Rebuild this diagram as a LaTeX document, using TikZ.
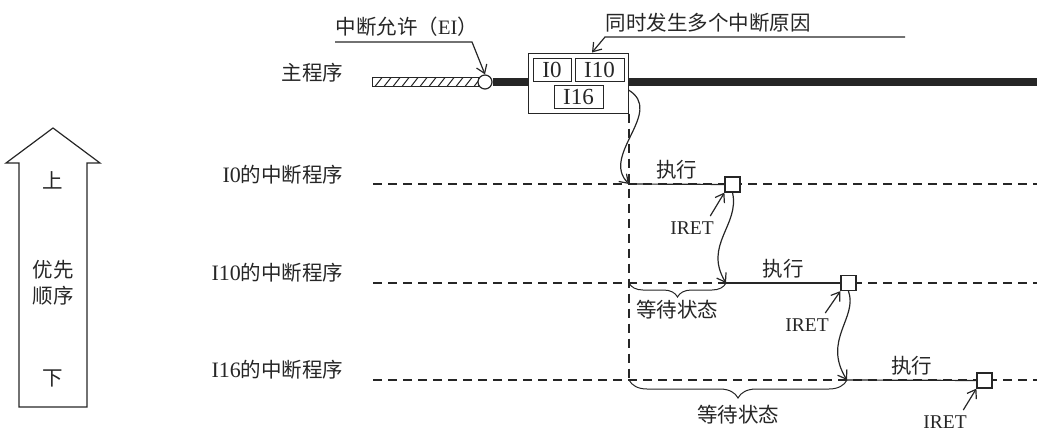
\documentclass[tikz,border=0pt]{standalone}
\usepackage{fontspec}
\setmainfont{Liberation Serif}
\newfontfamily\cjk{Noto Sans CJK SC}
\usetikzlibrary{positioning,arrows.meta,decorations.pathreplacing}

\begin{document}
\begin{tikzpicture}[
            x=1pt, y=-1pt, line width=1.2pt, color=black!85,
            lbl/.style={font=\fontsize{20.5}{26}\selectfont, inner sep=1pt},
            ret/.style={font=\fontsize{19.5}{20}\selectfont, inner sep=1pt},
            tag/.style={draw, line width=1pt, minimum height=23pt, inner sep=0pt, font=\fontsize{23}{24}\selectfont},
            sq/.style={draw, fill=white, minimum size=15pt, inner sep=0pt},
            pointer/.style={-{Straight Barb[length=8pt,width=11pt]}},
            wait/.style={dash pattern=on 9pt off 6pt},
            brace/.style={decorate, decoration={brace, mirror, amplitude=#1}, line width=1pt}
        ]
  \useasboundingbox (0,0) rectangle (1037,432);
  \draw (19,407) -- (19,163) -- (6,163) -- (53,128) -- (100,163) -- (87,163) -- (87,407) -- cycle;
  \node[lbl] (up) at (53,180) {\cjk 上};
  \node[lbl, align=center] (prio) at (53,283) {\cjk 优先\\\cjk 顺序};
  \node[lbl] (down) at (53,378) {\cjk 下};

  \node[lbl, anchor=east] (mainlbl) at (345,73) {\cjk 主程序};
  \node[lbl, anchor=east] (lbl0) at (345,175) {{\fontsize{22}{24}\selectfont I0}\cjk 的中断程序};
  \node[lbl, anchor=east] (lbl1) at (345,273) {{\fontsize{22}{24}\selectfont I10}\cjk 的中断程序};
  \node[lbl, anchor=east] (lbl2) at (345,370) {{\fontsize{22}{24}\selectfont I16}\cjk 的中断程序};

  \draw[line width=1pt] (372,77.5) rectangle (478,86.5);
  \begin{scope}
    \clip (372,77.5) rectangle (478,86.5);
    \foreach \x in {366,375,...,480} \draw[line width=1pt] (\x,86.5) -- ++(7,-9);
  \end{scope}
  \node[circle, draw, fill=white, minimum size=14pt, inner sep=0pt] (ei) at (485,82) {};
  \node[draw, line width=1pt, minimum width=100pt, minimum height=60pt] (grp) at (578,83) {};
  \node[tag, minimum width=38pt] (i0) at (552,69.5) {I0};
  \node[tag, minimum width=49pt] (i10) at (599.5,69.5) {I10};
  \node[tag, minimum width=49pt] (i16) at (578.5,96.5) {I16};
  \coordinate (mainend) at (1037,82);
  \draw[line width=8pt] (ei.east) -- (grp.west |- ei);
  \draw[line width=8pt] (grp.east |- ei) -- (mainend);

  \node[lbl, anchor=south west, inner xsep=0pt, inner ysep=5pt] (eitxt) at (335,42) {{\cjk 中断允许（}EI{\cjk ）}};
  \coordinate (eiknee) at (472,42);
  \draw[pointer] (eitxt.south west) -- (eiknee) -- (ei.north);
  \node[lbl, anchor=south west, inner xsep=0pt, inner ysep=4pt] (multtxt) at (605,37) {\cjk 同时发生多个中断原因};
  \coordinate (multend) at (905,37);
  \draw[pointer] (multend) -- (multtxt.south west) -- ([xshift=14pt]grp.north);

  \foreach \n/\y in {0/184,1/283,2/380} {
    \coordinate (rs\n) at (373,\y);
    \coordinate (re\n) at (1037,\y);
    \draw[wait] (rs\n) -- (re\n);
  }
  \coordinate (t0) at (629,184);
  \coordinate (t1) at (726,283);
  \coordinate (t2) at (847,380);
  \draw[wait] (grp.south -| t0) -- (t0 |- t2);

  \node[sq] (sq0) at (732.5,184.5) {};
  \node[sq] (sq1) at (848.5,283) {};
  \node[sq] (sq2) at (984.5,380.5) {};
  \draw (t0) -- (sq0) node[midway, above=3pt, lbl] (run0) {\cjk 执行};
  \draw (t1) -- (sq1) node[midway, above=3pt, lbl] (run1) {\cjk 执行};
  \draw (t2) -- (sq2) node[midway, above=3pt, lbl] (run2) {\cjk 执行};

  \draw[pointer] ([yshift=-7pt]grp.east) .. controls (665,112) and (600,155) .. (t0);
  \draw[pointer] (sq0.south) .. controls (740,225) and (703,245) .. (t1);
  \draw[pointer] (sq1.south) .. controls (858,318) and (822,340) .. (t2);

  \draw[brace=14pt] (t0 |- t1) -- (t1);
  \node[lbl] (wait1) at (677,310) {\cjk 等待状态};
  \draw[brace=18pt] (t0 |- t2) -- (t2);
  \node[lbl] (wait2) at (738,415) {\cjk 等待状态};

  \node[ret] (iret0) at (692,228) {IRET};
  \node[ret] (iret1) at (807,325) {IRET};
  \node[ret] (iret2) at (945,422) {IRET};
  \draw[pointer] ([shift={(-5pt,4pt)}]iret0.north east) -- (sq0.south west);
  \draw[pointer] ([shift={(-5pt,4pt)}]iret1.north east) -- (sq1.south west);
  \draw[pointer] ([shift={(-5pt,4pt)}]iret2.north east) -- (sq2.south west);
\end{tikzpicture}
\end{document}
